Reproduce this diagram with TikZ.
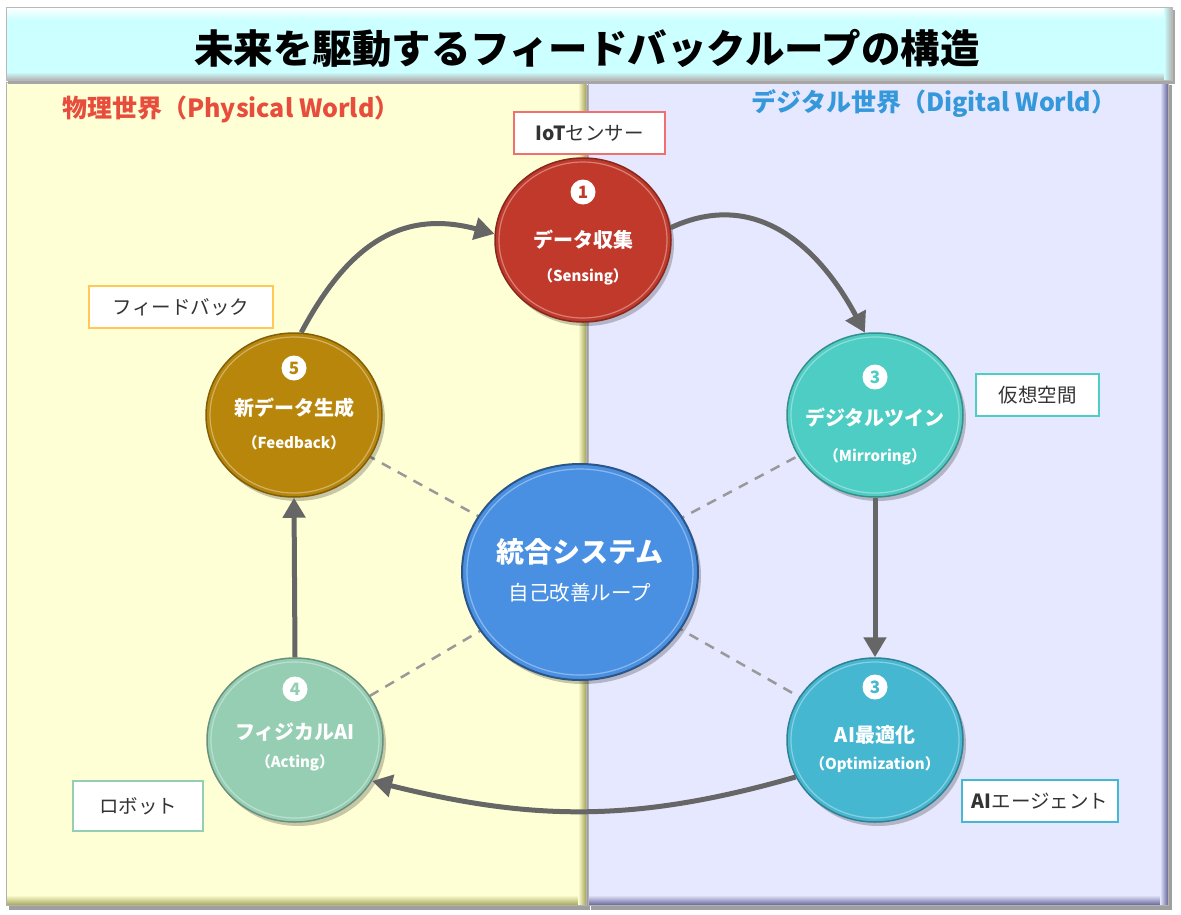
\documentclass[tikz,border=0pt]{standalone}
\usepackage{fontspec}
\setmainfont{Noto Sans CJK JP}
\usetikzlibrary{arrows.meta,shapes.geometric,calc}
\definecolor{cRed}{HTML}{C0392B}
\definecolor{cTeal}{HTML}{4ECDC4}
\definecolor{cSky}{HTML}{45B7D1}
\definecolor{cGreen}{HTML}{96CEB4}
\definecolor{cGold}{HTML}{B8860B}
\definecolor{cCenter}{HTML}{4A90E2}
\definecolor{leftbg}{HTML}{FFFFD5}
\definecolor{rightbg}{HTML}{E6E8FF}
\definecolor{titlebg}{HTML}{CCFFFF}
\definecolor{arrowgray}{HTML}{666666}
\definecolor{dashgray}{HTML}{999999}
\definecolor{labRed}{HTML}{F07070}
\definecolor{labYellow}{HTML}{FFC857}
\definecolor{headRed}{HTML}{E74C3C}
\definecolor{headBlue}{HTML}{3498DB}
\tikzset{
  stage/.style={ellipse, minimum width=176, minimum height=164, inner sep=0, fill=#1, draw=#1!70!black, line width=1.5},
  stageshadow/.style={ellipse, minimum width=176, minimum height=164, inner sep=0, fill=black, opacity=0.22},
  badge/.style={circle, fill=white, minimum size=25, inner sep=0, text=#1, font=\bfseries\fontsize{17}{17}\selectfont},
  stagetext/.style={text=white, font=\bfseries\fontsize{20}{20}\selectfont},
  stagesub/.style={text=white, font=\bfseries\fontsize{15}{15}\selectfont},
  labelbox/.style={draw=#1, line width=2.5, fill=white, minimum height=42, inner sep=0, text=black!80, font=\fontsize{19.5}{19.5}\selectfont},
  flow/.style={draw=arrowgray, line width=5, -{Triangle[length=20,width=22]}},
  link/.style={draw=dashgray, line width=2.5, dash pattern=on 10 off 8},
  heading/.style={font=\bfseries\fontsize{25}{25}\selectfont}
}
\begin{document}
\begin{tikzpicture}[x=1pt,y=-1pt]
\useasboundingbox (0,0) rectangle (1181,914);
\fill[white] (0,0) rectangle (1181,914);
% panels
\fill[gray!75] (9,85) rectangle (590,910);
\fill[gray!75] (591,85) rectangle (1172,910);
\fill[leftbg] (6,82) rectangle (586,905);
\fill[rightbg] (588,82) rectangle (1168,905);
\shade[top color=rightbg, bottom color=gray!80!blue] (588,895) rectangle (1168,905);
\shade[left color=rightbg, right color=gray!80!blue] (1160,82) rectangle (1168,905);
\shade[top color=leftbg, bottom color=gray!70!yellow] (6,895) rectangle (586,905);
\shade[left color=leftbg, right color=gray!70!yellow] (578,82) rectangle (586,905);
\draw[gray!60, line width=0.8] (6,82) rectangle (586,905);
\draw[gray!60, line width=0.8] (588,82) rectangle (1168,905);
% title bar
\fill[gray!70] (8,10) rectangle (1175,84);
\fill[titlebg] (6,7) rectangle (1172,80);
\shade[top color=white, bottom color=titlebg] (6,7) rectangle (1172,20);
\shade[top color=titlebg, bottom color=gray!60] (6,72) rectangle (1172,80);
\shade[left color=titlebg, right color=gray!60] (1164,7) rectangle (1172,80);
\draw[gray!55, line width=0.8] (6,7) rectangle (1172,80);
\node[font=\bfseries\fontsize{39.5}{39.5}\selectfont, text=black] (title) at (587,48) {未来を駆動するフィードバックループの構造};
% headings
\node[heading, text=headRed] (hphys) at (231,109) {物理世界（Physical World）};
\node[heading, text=headBlue] (hdig) at (934,104) {デジタル世界（Digital World）};
% circle positions
\coordinate (p1) at (583,240);
\coordinate (p3) at (875,415);
\coordinate (p6) at (875,740);
\coordinate (p4) at (295,740);
\coordinate (p5) at (294,415);
\coordinate (pc) at (580,572);
% dashed links
\draw[link] (pc) -- (p5);
\draw[link] (pc) -- (p3);
\draw[link] (pc) -- (p4);
\draw[link] (pc) -- (p6);
% shadows
\node[stageshadow] (s1) at ($(p1)+(3,4)$) {};
\node[stageshadow] (s3) at ($(p3)+(3,4)$) {};
\node[stageshadow] (s6) at ($(p6)+(3,4)$) {};
\node[stageshadow] (s4) at ($(p4)+(3,4)$) {};
\node[stageshadow] (s5) at ($(p5)+(3,4)$) {};
\node[ellipse, minimum width=236, minimum height=216, fill=black, opacity=0.22] (sc) at ($(pc)+(3,4)$) {};
% circles
\node[stage=cRed] (c1) at (p1) {};
\node[stage=cTeal] (c3) at (p3) {};
\node[stage=cSky] (c6) at (p6) {};
\node[stage=cGreen] (c4) at (p4) {};
\node[stage=cGold] (c5) at (p5) {};
\node[ellipse, minimum width=236, minimum height=216, inner sep=0, fill=cCenter, draw=cCenter!60!black, line width=2] (cc) at (pc) {};
% inner highlights
\foreach \n/\c in {c1/cRed,c3/cTeal,c6/cSky,c4/cGreen,c5/cGold}{
  \draw[\c!55!white, line width=1.2, opacity=0.8] (\n.center) ellipse (84 and 78);
}
\draw[cCenter!55!white, line width=1.2, opacity=0.8] (cc.center) ellipse (113 and 103);
% circle texts
\node[badge=cRed] (n1) at ($(p1)+(0,-48)$) {1};
\node[stagetext] (t1) at ($(p1)+(0,0)$) {データ収集};
\node[stagesub] (u1) at ($(p1)+(0,37)$) {（Sensing）};
\node[badge=cTeal] (n3) at ($(p3)+(0,-38)$) {3};
\node[stagetext] (t3) at ($(p3)+(0,3)$) {デジタルツイン};
\node[stagesub] (u3) at ($(p3)+(0,42)$) {（Mirroring）};
\node[badge=cSky] (n6) at ($(p6)+(0,-53)$) {3};
\node[stagetext] (t6) at ($(p6)+(0,-5)$) {AI最適化};
\node[stagesub] (u6) at ($(p6)+(0,25)$) {（Optimization）};
\node[badge=cGreen] (n4) at ($(p4)+(0,-51)$) {4};
\node[stagetext] (t4) at ($(p4)+(0,-8)$) {フィジカルAI};
\node[stagesub] (u4) at ($(p4)+(0,23)$) {（Acting）};
\node[badge=cGold] (n5) at ($(p5)+(0,-47)$) {5};
\node[stagetext] (t5) at ($(p5)+(0,-7)$) {新データ生成};
\node[stagesub] (u5) at ($(p5)+(0,28)$) {（Feedback）};
\node[text=white, font=\bfseries\fontsize{28}{28}\selectfont] (tc) at ($(pc)+(0,-20)$) {統合システム};
\node[text=white, font=\fontsize{20.5}{20.5}\selectfont] (uc) at ($(pc)+(0,21)$) {自己改善ループ};
% arrows
\draw[flow] (c5.85) to[out=62,in=165,looseness=1.15] (c1.176);
\draw[flow] (c1.8) to[out=25,in=118,looseness=1.1] (c3.97);
\draw[flow] (c3.south) -- (c6.north);
\draw[flow] (c6.205) to[out=196,in=-14,looseness=1] (c4.-28);
\draw[flow] (c4.north) -- (c5.south);
% label boxes
\node[labelbox=labRed, minimum width=151] (lb1) at (589.5,133) {\textbf{IoT}センサー};
\node[labelbox=cTeal, minimum width=123] (lb3) at (1037.5,395) {仮想空間};
\node[labelbox=cSky, minimum width=156] (lb6) at (1040,801) {\textbf{AI}エージェント};
\node[labelbox=cGreen, minimum width=130, minimum height=50] (lb4) at (138,806) {ロボット};
\node[labelbox=labYellow, minimum width=184] (lb5) at (181,307) {フィードバック};
\end{tikzpicture}
\end{document}
